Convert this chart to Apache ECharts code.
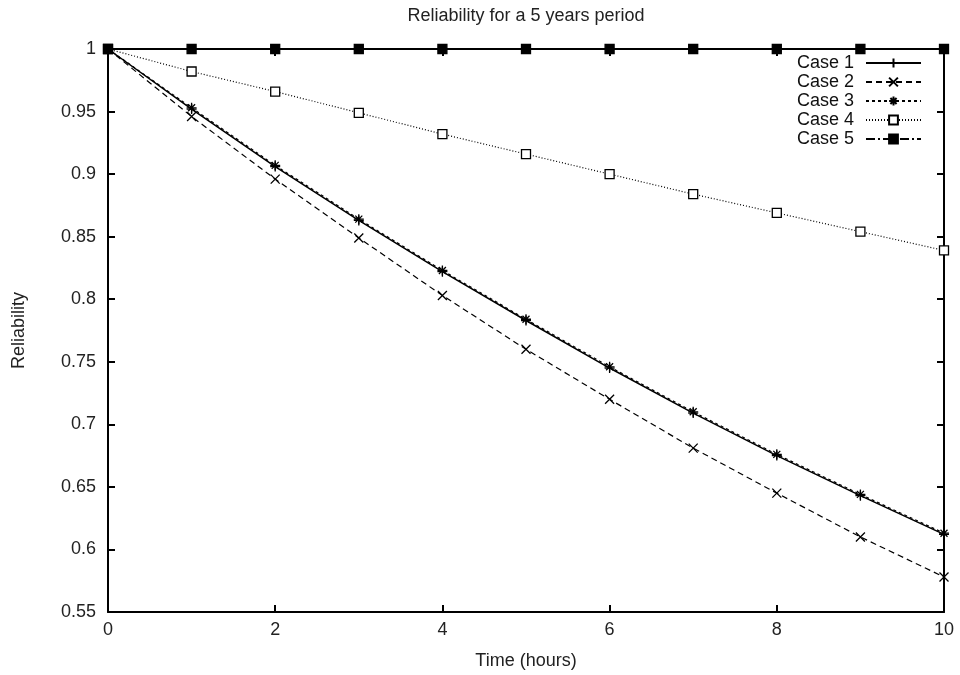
<!DOCTYPE html>
<html><head><meta charset="utf-8">
<script src="https://cdn.jsdelivr.net/npm/echarts@6/dist/echarts.min.js"></script>
<style>html,body{margin:0;padding:0;background:#fff}#c{width:960px;height:675px}</style>
</head><body><div id="c"></div>
<script>
var hours = [0,1,2,3,4,5,6,7,8,9,10];
var case1 = [1,0.952,0.906,0.863,0.822,0.783,0.745,0.709,0.675,0.643,0.612];
var case2 = [1,0.946,0.896,0.849,0.803,0.760,0.720,0.681,0.645,0.610,0.578];
var case3 = [1,0.953,0.907,0.864,0.823,0.784,0.746,0.710,0.676,0.644,0.613];
var case4 = [1,0.982,0.966,0.949,0.932,0.916,0.900,0.884,0.869,0.854,0.839];
var case5 = [1,1,1,1,1,1,1,1,1,1,1];
var names = ['Case 1','Case 2','Case 3','Case 4','Case 5'];
var titleText = 'Reliability for a 5 years period';
var FONT = 'Liberation Sans, Arial, sans-serif';
var FS = 18;

function pairs(v){ return hours.map(function(h,i){return [h,v[i]];}); }
var plus = 'path://M0,5L10,5M5,0L5,10';
var cross = 'path://M0,0L10,10M10,0L0,10';
var star = 'path://M0,5L10,5M5,0L5,10M1.5,1.5L8.5,8.5M8.5,1.5L1.5,8.5';

function mk(name, data, sym, size, dash, fill, z){
  return {
    name: name, type: 'line', data: pairs(data), symbol: sym, symbolSize: size,
    showAllSymbol: true, z: z,
    lineStyle: {color: '#000', width: name==='Case 1'?1.5:1.2, type: dash},
    itemStyle: {color: fill, borderColor: '#000', borderWidth: 1.3},
    emphasis: {disabled: true}, animation: false
  };
}

var chart = echarts.init(document.getElementById('c'));
var tickStyle = {show: true, inside: true, length: 7, lineStyle: {color: '#000', width: 2}};
chart.setOption({
  animation: false,
  graphic: [{type: 'text', x: 526, y: 7, style: {text: titleText, textAlign: 'center',
    font: 'normal ' + FS + 'px ' + FONT, fill: '#222'}}],
  grid: {left: 108, right: 16, top: 49, bottom: 61},
  legend: {
    orient: 'vertical', right: 38, top: 54, align: 'right', itemGap: 1, padding: 0,
    itemWidth: 55, itemHeight: 11, data: names,
    textStyle: {fontFamily: FONT, fontSize: FS, color: '#111', padding: [0, 7, 0, 0]}
  },
  xAxis: [
    {type: 'value', min: 0, max: 10, interval: 2, position: 'bottom',
     name: 'Time (hours)', nameLocation: 'middle', nameGap: 40,
     nameTextStyle: {fontFamily: FONT, fontSize: FS, color: '#222'},
     axisLine: {show: true, onZero: false, lineStyle: {color: '#000', width: 2}},
     axisTick: tickStyle, splitLine: {show: false},
     axisLabel: {fontFamily: FONT, fontSize: FS, color: '#222', margin: 9}},
    {type: 'value', min: 0, max: 10, interval: 2, position: 'top',
     axisLine: {show: true, onZero: false, lineStyle: {color: '#000', width: 2}},
     axisTick: tickStyle, splitLine: {show: false}, axisLabel: {show: false}}
  ],
  yAxis: [
    {type: 'value', min: 0.55, max: 1, interval: 0.05, position: 'left',
     name: 'Reliability', nameLocation: 'middle', nameGap: 80, nameRotate: 90,
     nameTextStyle: {fontFamily: FONT, fontSize: FS, color: '#222'},
     axisLine: {show: true, onZero: false, lineStyle: {color: '#000', width: 2}},
     axisTick: tickStyle, splitLine: {show: false},
     axisLabel: {fontFamily: FONT, fontSize: FS, color: '#222', margin: 12}},
    {type: 'value', min: 0.55, max: 1, interval: 0.05, position: 'right',
     axisLine: {show: true, onZero: false, lineStyle: {color: '#000', width: 2}},
     axisTick: tickStyle, splitLine: {show: false}, axisLabel: {show: false}}
  ],
  series: [
    mk('Case 1', case1, plus, 10, 'solid', 'none', 5),
    mk('Case 2', case2, cross, 9, [6,4], 'none', 4),
    mk('Case 3', case3, star, 10, [3,3], 'none', 6),
    mk('Case 4', case4, 'rect', 9, [1,2], '#fff', 3),
    mk('Case 5', case5, 'rect', 9, [9,3,2,3], '#000', 7)
  ]
});
</script></body></html>
